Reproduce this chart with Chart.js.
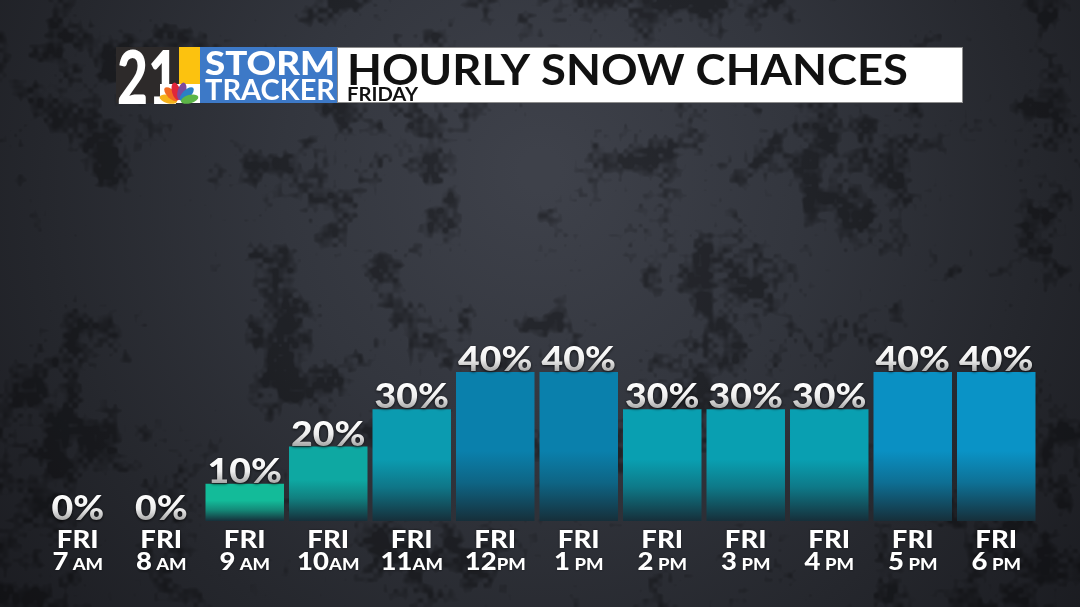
<!DOCTYPE html>
<html>
<head>
<meta charset="utf-8">
<script src="https://cdn.jsdelivr.net/npm/chart.js@4"></script>
<style>
    html, body {
        margin: 0;
        padding: 0;
        width: 1080px;
        height: 607px;
        overflow: hidden;
        background: #2a2c33;
    }
    #wrap {
        position: absolute;
        left: 0;
        top: 0;
        width: 1080px;
        height: 607px;
    }
</style>
</head>
<body>
<div id="wrap"><canvas id="snowChart" width="1080" height="607"></canvas></div>
<script>
// donnees du graphique
const days = ['FRI', 'FRI', 'FRI', 'FRI', 'FRI', 'FRI', 'FRI', 'FRI', 'FRI', 'FRI', 'FRI', 'FRI'];
const hours = ['7 AM', '8 AM', '9 AM', '10AM', '11AM', '12PM', '1 PM', '2 PM', '3 PM', '4 PM', '5 PM', '6 PM'];
const chances = [0, 0, 10, 20, 30, 40, 40, 30, 30, 30, 40, 40];
const yTicks = [0, 100];

const title = 'HOURLY SNOW CHANCES';
const subtitle = 'FRIDAY';

// couleurs des barres (haut)
const barColors = ['#13bb99', '#13bb99', '#13bb99', '#0ea8a2', '#0b9bb0', '#0a80ac', '#0a80ac',
    '#099fb1', '#099fb1', '#099fb1', '#0a90c3', '#0a93c6'];

const font = '"Lato", "DejaVu Sans", sans-serif';

// fond texture (bruit deterministe)
function hash(x, y) {
    let h = Math.imul(x, 374761393) + Math.imul(y, 668265263);
    h = Math.imul(h ^ (h >>> 13), 1274126177);
    return ((h ^ (h >>> 16)) >>> 0) / 4294967295;
}

function noise(x, y) {
    const xi = Math.floor(x), yi = Math.floor(y);
    const xf = x - xi, yf = y - yi;
    const u = xf * xf * (3 - 2 * xf), v = yf * yf * (3 - 2 * yf);
    const a = hash(xi, yi), b = hash(xi + 1, yi), c = hash(xi, yi + 1), d = hash(xi + 1, yi + 1);
    return a + (b - a) * u + (c - a) * v + (a - b - c + d) * u * v;
}

function makeBackground() {
    const W = 1080, H = 607;
    const bg = document.createElement('canvas');
    bg.width = W;
    bg.height = H;
    const c = bg.getContext('2d');
    const g = c.createRadialGradient(540, 170, 20, 540, 200, 700);
    g.addColorStop(0, '#3e414a');
    g.addColorStop(0.35, '#33363e');
    g.addColorStop(0.7, '#25272d');
    g.addColorStop(1, '#1a1b20');
    c.fillStyle = g;
    c.fillRect(0, 0, W, H);
    const img = c.getImageData(0, 0, W, H);
    const px = img.data;
    for (let y = 0; y < H; y++) {
        for (let x = 0; x < W; x++) {
            let n = noise(x / 55, y / 55) * 0.45 + noise(x / 18 + 31, y / 18 + 17) * 0.33 + noise(x / 5 + 5, y / 5 + 9) * 0.22;
            let k = Math.min(1, Math.max(0, (n - 0.56) * 6)) * 0.36;
            const i = (y * W + x) * 4;
            px[i] = px[i] * (1 - k);
            px[i + 1] = px[i + 1] * (1 - k);
            px[i + 2] = px[i + 2] * (1 - k);
        }
    }
    c.putImageData(img, 0, 0);
    return bg;
}

const background = makeBackground();

function mix(c1, c2, t) {
    const a = parseInt(c1.slice(1), 16), b = parseInt(c2.slice(1), 16);
    const r = Math.round(((a >> 16) & 255) * (1 - t) + ((b >> 16) & 255) * t);
    const g = Math.round(((a >> 8) & 255) * (1 - t) + ((b >> 8) & 255) * t);
    const bl = Math.round((a & 255) * (1 - t) + (b & 255) * t);
    return 'rgb(' + r + ',' + g + ',' + bl + ')';
}

function barGradient(context) {
    const chart = context.chart;
    const area = chart.chartArea;
    if (!area) {
        return barColors[context.dataIndex];
    }
    const yScale = chart.scales.y;
    const top = yScale.getPixelForValue(chances[context.dataIndex]);
    const bottom = area.bottom;
    const h = Math.max(bottom - top, 1);
    const fade = Math.min(70, h * 0.55);
    const g = chart.ctx.createLinearGradient(0, top, 0, bottom);
    const c = barColors[context.dataIndex];
    const s = Math.max(0, 1 - fade / h);
    g.addColorStop(0, c);
    g.addColorStop(s, c);
    g.addColorStop(s + (1 - s) * 0.45, mix(c, '#16323d', 0.35));
    g.addColorStop(1, '#162f3a');
    return g;
}

// texte ajuste a une largeur donnee
function fitText(ctx, text, x, y, width, size, weight, color, align) {
    ctx.save();
    ctx.font = weight + ' ' + size + 'px ' + font;
    const w = ctx.measureText(text).width;
    const k = width / w;
    ctx.translate(x, y);
    ctx.scale(k, 1);
    ctx.textAlign = align || 'left';
    ctx.textBaseline = 'alphabetic';
    ctx.fillStyle = color;
    ctx.fillText(text, 0, 0);
    ctx.restore();
}

function drawPeacock(ctx, cx, cy) {
    const feathers = ['#f6b21b', '#f26a22', '#e0263a', '#7c4a9e', '#2b7fc4', '#5cb547'];
    for (let i = 0; i < feathers.length; i++) {
        const a = -Math.PI + (i + 0.5) * Math.PI / feathers.length;
        ctx.save();
        ctx.translate(cx + Math.cos(a) * 11, cy - 1 + Math.sin(a) * 11);
        ctx.rotate(a);
        ctx.beginPath();
        ctx.ellipse(0, 0, 9, 4.2, 0, 0, Math.PI * 2);
        ctx.fillStyle = feathers[i];
        ctx.fill();
        ctx.restore();
    }
}

const backgroundPlugin = {
    id: 'fond',
    beforeDraw(chart) {
        chart.ctx.drawImage(background, 0, 0);
    }
};

const headerPlugin = {
    id: 'header',
    afterDraw(chart) {
        const ctx = chart.ctx;
        ctx.save();
        // boite blanche
        ctx.fillStyle = '#ffffff';
        ctx.fillRect(337, 47, 626, 56);
        ctx.strokeStyle = '#8c8c8c';
        ctx.lineWidth = 1;
        ctx.strokeRect(337.5, 47.5, 625, 55);
        // logo
        ctx.fillStyle = '#2d2a2a';
        ctx.fillRect(116, 47, 63, 56);
        ctx.fillStyle = '#fcc20f';
        ctx.fillRect(179, 47, 21, 56);
        ctx.fillStyle = '#ffffff';
        ctx.fillRect(160, 84, 40, 19);
        ctx.fillStyle = '#3d79c7';
        ctx.fillRect(200, 47, 137, 56);
        fitText(ctx, '21', 117, 104, 62, 74, '900', '#ffffff');
        drawPeacock(ctx, 179, 103);
        fitText(ctx, 'STORM', 205, 75, 130, 33, '900', '#ffffff');
        fitText(ctx, 'TRACKER', 205, 100, 130, 28, '700', '#ffffff');
        // titres
        fitText(ctx, title, 347, 85, 561, 42, '700', '#111111');
        fitText(ctx, subtitle, 347, 101, 71, 18, '700', '#111111');
        ctx.restore();
    }
};

const labelsPlugin = {
    id: 'barLabels',
    afterDatasetsDraw(chart) {
        const ctx = chart.ctx;
        const meta = chart.getDatasetMeta(0);
        const bottom = chart.chartArea.bottom;
        ctx.save();
        meta.data.forEach((bar, i) => {
            // pourcentage
            const txt = chances[i] + '%';
            const y = bar.y - 1;
            ctx.save();
            ctx.font = '900 34px ' + font;
            ctx.textAlign = 'center';
            ctx.translate(bar.x, y);
            ctx.scale(1.1, 1);
            const g = ctx.createLinearGradient(0, -25, 0, 0);
            g.addColorStop(0, '#ffffff');
            g.addColorStop(0.55, '#eeeeee');
            g.addColorStop(1, '#a9a9a9');
            ctx.shadowColor = 'rgba(0,0,0,0.75)';
            ctx.shadowBlur = 3;
            ctx.shadowOffsetY = 1;
            ctx.fillStyle = g;
            ctx.fillText(txt, 0, 0);
            ctx.restore();

            // etiquettes de l'axe
            ctx.save();
            ctx.fillStyle = '#ffffff';
            ctx.shadowColor = 'rgba(0,0,0,0.6)';
            ctx.shadowBlur = 2;
            ctx.textAlign = 'center';
            ctx.font = '900 25px ' + font;
            ctx.translate(bar.x, bottom + 27);
            ctx.scale(1.1, 1);
            ctx.fillText(days[i], 0, 0);
            ctx.restore();

            const m = hours[i].match(/^(\d+)(.*)$/);
            const num = m[1];
            const suf = m[2];
            ctx.save();
            ctx.fillStyle = '#ffffff';
            ctx.shadowColor = 'rgba(0,0,0,0.6)';
            ctx.shadowBlur = 2;
            ctx.textAlign = 'left';
            ctx.font = '900 25px ' + font;
            const wn = ctx.measureText(num).width * 1.1;
            ctx.font = '900 16px ' + font;
            const ws = ctx.measureText(suf).width * 1.15;
            const x0 = bar.x - (wn + ws) / 2;
            ctx.translate(x0, bottom + 49);
            ctx.save();
            ctx.scale(1.1, 1);
            ctx.font = '900 25px ' + font;
            ctx.fillText(num, 0, 0);
            ctx.restore();
            ctx.translate(wn, 0);
            ctx.scale(1.15, 1);
            ctx.font = '900 16px ' + font;
            ctx.fillText(suf, 0, 0);
            ctx.restore();
        });
        ctx.restore();
    }
};

const ctx = document.getElementById('snowChart');

new Chart(ctx, {
    type: 'bar',
    data: {
        labels: hours,
        datasets: [{
            label: 'Snow chance',
            data: chances,
            backgroundColor: barGradient,
            borderWidth: 0,
            barPercentage: 0.94,
            categoryPercentage: 1
        }]
    },
    options: {
        responsive: false,
        animation: false,
        devicePixelRatio: 1,
        layout: {
            padding: { left: 36, right: 42, top: 148.5, bottom: 86 }
        },
        plugins: {
            legend: { display: false },
            tooltip: { enabled: false }
        },
        scales: {
            x: {
                display: false
            },
            y: {
                display: false,
                min: yTicks[0],
                max: yTicks[1]
            }
        }
    },
    plugins: [backgroundPlugin, headerPlugin, labelsPlugin]
});
</script>
</body>
</html>
